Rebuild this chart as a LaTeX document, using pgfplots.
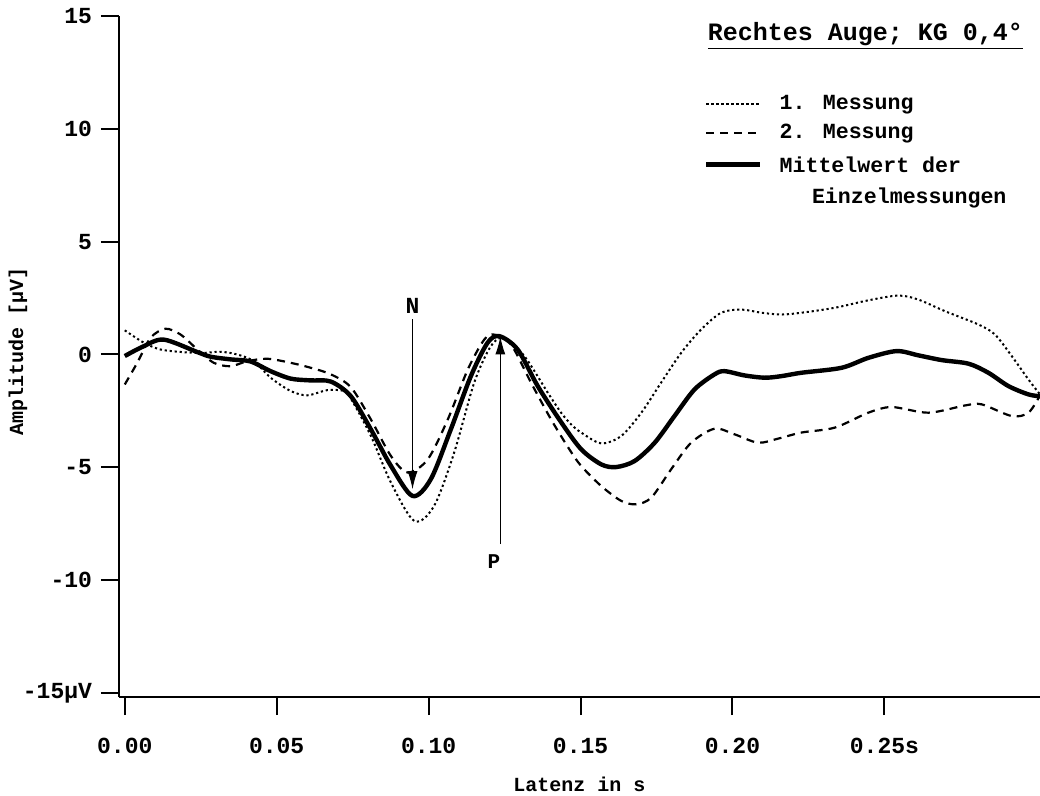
\documentclass[border=0pt]{standalone}
\usepackage{fontspec}
\setmainfont{Liberation Mono}
\usepackage{pgfplots}
\usepackage{pgfplotstable}
\pgfplotsset{compat=1.18}
\usetikzlibrary{arrows.meta}

\pgfplotstableread{
t v
0.0000 1.07
0.0063 0.52
0.0118 0.22
0.0195 0.10
0.0260 0.07
0.0315 0.12
0.0370 0.00
0.0425 -0.30
0.0480 -1.03
0.0546 -1.62
0.0601 -1.81
0.0667 -1.58
0.0722 -1.62
0.0744 -1.95
0.0810 -3.61
0.0876 -5.68
0.0953 -7.38
0.1018 -6.71
0.1084 -4.35
0.1150 -1.25
0.1205 0.37
0.1249 0.74
0.1315 -0.07
0.1392 -1.69
0.1436 -2.58
0.1469 -3.10
0.1502 -3.46
0.1568 -3.94
0.1634 -3.61
0.1700 -2.58
0.1765 -1.25
0.1831 0.07
0.1897 1.11
0.1963 1.85
0.2029 1.99
0.2095 1.85
0.2161 1.77
0.2227 1.85
0.2337 2.07
0.2447 2.40
0.2546 2.61
0.2612 2.43
0.2699 1.92
0.2809 1.33
0.2864 0.88
0.2919 -0.07
0.2974 -1.11
0.3012 -1.77
}\first

\pgfplotstableread{
t v
0.0000 -1.33
0.0041 -0.37
0.0085 0.74
0.0134 1.14
0.0184 0.88
0.0239 0.22
0.0293 -0.37
0.0348 -0.52
0.0403 -0.30
0.0469 -0.19
0.0546 -0.37
0.0612 -0.59
0.0678 -0.88
0.0744 -1.45
0.0810 -2.88
0.0876 -4.50
0.0931 -5.23
0.0997 -4.65
0.1063 -2.88
0.1129 -0.66
0.1183 0.66
0.1216 0.88
0.1271 0.44
0.1337 -1.25
0.1403 -2.88
0.1463 -4.20
0.1502 -4.94
0.1568 -5.83
0.1634 -6.49
0.1683 -6.64
0.1733 -6.34
0.1798 -5.09
0.1864 -3.91
0.1941 -3.29
0.2007 -3.54
0.2084 -3.91
0.2150 -3.73
0.2227 -3.46
0.2337 -3.24
0.2447 -2.58
0.2524 -2.33
0.2645 -2.58
0.2765 -2.26
0.2820 -2.21
0.2919 -2.73
0.2974 -2.58
0.3012 -1.81
}\second

\pgfplotstableread{
t v
0.0000 -0.07
0.0060 0.35
0.0128 0.66
0.0240 0.10
0.0283 -0.10
0.0350 -0.22
0.0414 -0.31
0.0480 -0.74
0.0546 -1.07
0.0612 -1.15
0.0678 -1.20
0.0744 -1.85
0.0810 -3.32
0.0876 -4.94
0.0947 -6.27
0.1007 -5.53
0.1073 -3.32
0.1139 -0.96
0.1194 0.52
0.1233 0.81
0.1293 0.22
0.1359 -1.40
0.1436 -3.00
0.1502 -4.20
0.1568 -4.87
0.1617 -4.99
0.1678 -4.72
0.1744 -3.91
0.1809 -2.73
0.1875 -1.55
0.1941 -0.88
0.1974 -0.74
0.2040 -0.93
0.2106 -1.03
0.2161 -0.96
0.2227 -0.81
0.2359 -0.59
0.2447 -0.15
0.2540 0.15
0.2612 -0.04
0.2689 -0.25
0.2777 -0.41
0.2842 -0.81
0.2908 -1.40
0.2974 -1.77
0.3012 -1.85
}\mean

\begin{document}
\begin{tikzpicture}
\begin{axis}[
  name=ax,
  scale only axis, width=460.5pt, height=340.5pt,
  xmin=-0.0019, xmax=0.3012, ymin=-15.18, ymax=15,
  axis lines=left, axis line style={-, line width=1pt},
  xtick={0,0.05,0.1,0.15,0.2,0.25},
  xticklabels={0.00,0.05,0.10,0.15,0.20,0.25s},
  ytick={-15,-10,-5,0,5,10,15},
  yticklabels={-15µV,-10,-5,0,5,10,15},
  tick align=outside, major tick length=9pt,
  tick style={line width=1pt, black},
  ticklabel style={font=\fontsize{11.5}{13}\selectfont\bfseries},
  xticklabel style={yshift=-8pt},
  yticklabel style={xshift=-1pt},
  xlabel={Latenz in s}, ylabel={Amplitude [µV]},
  label style={font=\fontsize{10}{12}\selectfont\bfseries},
  xlabel style={at={(axis description cs:0.5,-0.1284)}, anchor=center},
  ylabel style={at={(axis description cs:-0.1097,0.508)}, anchor=center},
  legend style={draw=none, fill=none, at={(axis description cs:0.635,0.890)},
    anchor=north west, font=\fontsize{10.8}{13}\selectfont\bfseries,
    row sep=2pt, inner sep=0pt,
    /tikz/every odd column/.append style={column sep=6.5pt}},
  legend cell align=left,
  legend image code/.code={\draw[#1] (0pt,0pt) -- (27pt,0pt);},
]
\addplot[black, smooth, line width=1pt, dash pattern=on 1.1pt off 1.4pt] table[x=t,y=v] {\first};
\addlegendentry{1. Messung}
\addplot[black, smooth, line width=1.1pt, dash pattern=on 4pt off 3pt] table[x=t,y=v] {\second};
\addlegendentry{2. Messung}
\addplot[black, smooth, line width=2.2pt] table[x=t,y=v] {\mean};
\addlegendentry{{\begin{tabular}[t]{@{}l@{}}Mittelwert der\\[2.5pt]\hspace*{1.5em}Einzelmessungen\end{tabular}}}

\draw[-{Latex[length=9pt,width=5pt]}, line width=0.5pt] (axis cs:0.0947,1.55) -- (axis cs:0.0947,-5.97);
\node[font=\fontsize{11.5}{13}\selectfont\bfseries] at (axis cs:0.0947,2.15) {N};
\draw[-{Latex[length=9pt,width=5pt]}, line width=0.5pt] (axis cs:0.1236,-8.41) -- (axis cs:0.1236,0.8);
\node[font=\fontsize{10.5}{13}\selectfont\bfseries] at (axis cs:0.1215,-9.2) {P};
\node[font=\fontsize{12.5}{14}\selectfont\bfseries] at (axis description cs:0.8105,0.971) {\underline{Rechtes Auge; KG 0,4°}};
\end{axis}
\pgfresetboundingbox
\path ([shift={(-59.5pt,-49pt)}]ax.south west) rectangle ([shift={(0pt,8pt)}]ax.north east);
\end{tikzpicture}
\end{document}
